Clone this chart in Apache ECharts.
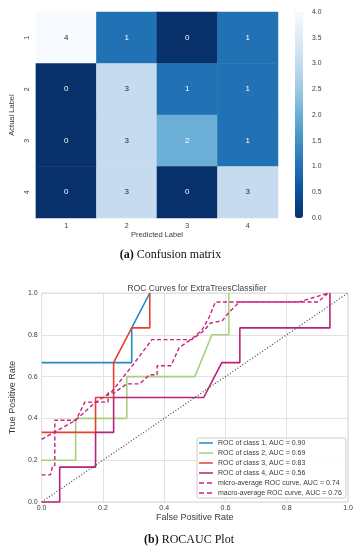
<!DOCTYPE html>
<html><head><meta charset="utf-8">
<script src="https://cdn.jsdelivr.net/npm/echarts@6/dist/echarts.min.js"></script>
<style>html,body{margin:0;padding:0;background:#fff}#c{width:361px;height:550px}</style>
</head><body><div id="c"></div>
<script>
// ---- Confusion matrix data ----
const predictedLabels = ['1', '2', '3', '4'];
const actualLabels = ['1', '2', '3', '4'];
const confusion = [
  [4, 1, 0, 1],
  [0, 3, 1, 1],
  [0, 3, 2, 1],
  [0, 3, 0, 3]
];
// Blues_r colour ramp (low value -> high value)
const bluesR = ['#08306b', '#08519c', '#2171b5', '#4292c6', '#6baed6', '#9ecae1', '#c6dbef', '#deebf7', '#f7fbff'];

// ---- ROC data ----
const class1 = [[0, 0.667], [0.294, 0.667], [0.294, 0.833], [0.353, 1.0]];
const class2 = [[0, 0.2], [0.111, 0.2], [0.111, 0.4], [0.278, 0.4], [0.278, 0.6], [0.5, 0.6], [0.556, 0.8], [0.611, 0.8], [0.611, 1.0]];
const class3 = [[0, 0.333], [0.176, 0.333], [0.176, 0.5], [0.235, 0.5], [0.235, 0.667], [0.294, 0.833], [0.353, 0.833], [0.353, 1.0]];
const class4 = [[0, 0], [0.059, 0], [0.059, 0.167], [0.176, 0.167], [0.176, 0.333], [0.235, 0.333], [0.235, 0.5], [0.529, 0.5], [0.588, 0.667], [0.647, 0.667], [0.647, 0.833], [0.941, 0.833], [0.941, 1.0]];
const micro = [[0, 0.130], [0.029, 0.130], [0.036, 0.174], [0.043, 0.174], [0.043, 0.391], [0.112, 0.391], [0.141, 0.478], [0.217, 0.478], [0.217, 0.522], [0.236, 0.522], [0.278, 0.565], [0.320, 0.565], [0.352, 0.609], [0.377, 0.609], [0.377, 0.652], [0.422, 0.652], [0.449, 0.739], [0.490, 0.780], [0.524, 0.824], [0.547, 0.885], [0.567, 0.957], [0.902, 0.957], [0.936, 1.0]];
const macro = [[0, 0.30], [0.11, 0.39], [0.17, 0.47], [0.23, 0.53], [0.30, 0.66], [0.36, 0.777], [0.49, 0.777], [0.53, 0.82], [0.55, 0.855], [0.59, 0.868], [0.61, 0.905], [0.645, 0.957], [0.84, 0.957], [0.936, 1.0]];
const chance = [[0, 0], [1, 1]];
const legendNames = [
  'ROC of class 1, AUC = 0.90',
  'ROC of class 2, AUC = 0.69',
  'ROC of class 3, AUC = 0.83',
  'ROC of class 4, AUC = 0.56',
  'micro-average ROC curve, AUC = 0.74',
  'macro-average ROC curve, AUC = 0.76'
];
const rocSeriesData = [class1, class2, class3, class4, micro, macro];
const rocColors = ['#238bc6', '#a6d27e', '#e8402d', '#b8237d', '#c9217f', '#c9217f'];

const FONT = 'Liberation Sans, Arial, sans-serif';
const TXT = '#3a3a3a';

// legend glyphs: a thin bar (solid) or two dashes, with tiny corner specks fixing the box
const SOLID_ICON = 'path://M0,0h0.01v0.01h-0.01Z M0,2.2H14V3.8H0Z M13.99,6h0.01v0.01h-0.01Z';
const DASH_ICON = 'path://M0,0h0.01v0.01h-0.01Z M0,2.3H5V3.7H0Z M8,2.3H13V3.7H8Z M13.99,6h0.01v0.01h-0.01Z';

const heatData = [];
confusion.forEach((row, i) => row.forEach((v, j) => {
  heatData.push({ value: [j, i, v], label: { color: v >= 2.5 ? '#262626' : '#ffffff' } });
}));

const chart = echarts.init(document.getElementById('c'), null, { renderer: 'canvas' });

const rocSeries = rocSeriesData.map((d, k) => ({
  type: 'line',
  name: legendNames[k],
  xAxisIndex: 1, yAxisIndex: 1,
  data: d,
  symbol: 'none',
  clip: false,
  lineStyle: { color: rocColors[k], width: k >= 4 ? 1.4 : 1.6, type: k >= 4 ? [4, 2.5] : 'solid' },
  itemStyle: { color: rocColors[k] },
  z: 3
}));

const serifRich = {
  b: { fontFamily: 'Liberation Serif, serif', fontSize: 12, fontWeight: 'bold', color: '#111' },
  n: { fontFamily: 'Liberation Serif, serif', fontSize: 12, fontWeight: 'normal', color: '#111' }
};

const option = {
  animation: false,
  backgroundColor: '#fff',
  textStyle: { fontFamily: FONT },
  title: [
    { text: 'ROC Curves for ExtraTreesClassifier', left: 192, top: 279, textAlign: 'center',
      textStyle: { fontFamily: FONT, fontSize: 8.5, fontWeight: 'normal', color: '#444' } },
    { text: '{b|(a)}{n| Confusion matrix}', left: 165.5, top: 244, textAlign: 'center',
      textStyle: { fontWeight: 'normal', rich: serifRich } },
    { text: '{b|(b)}{n| ROCAUC Plot}', left: 184, top: 529, textAlign: 'center',
      textStyle: { fontWeight: 'normal', rich: serifRich } }
  ],
  grid: [
    { left: 32, top: 12, width: 246, height: 206, containLabel: false },
    { left: 36, top: 293, width: 312, height: 209, show: true, borderColor: '#d8d8d8', borderWidth: 1, backgroundColor: '#fff' },
    { left: 295, top: 12, width: 8, height: 206 }
  ],
  xAxis: [
    { type: 'category', gridIndex: 0, data: predictedLabels, name: 'Predicted Label', nameLocation: 'middle', nameGap: 13,
      nameTextStyle: { fontSize: 7.5, color: TXT },
      axisLine: { show: false }, axisTick: { show: false }, splitLine: { show: false },
      axisLabel: { fontSize: 7, color: TXT, margin: 5 } },
    { type: 'value', gridIndex: 1, min: 0, max: 1, interval: 0.2, name: 'False Positive Rate', nameLocation: 'middle', nameGap: 11,
      nameTextStyle: { fontSize: 9, color: TXT },
      axisLine: { show: false }, axisTick: { show: false },
      splitLine: { show: true, lineStyle: { color: '#e2e2e2', width: 1 } },
      axisLabel: { fontSize: 7, color: TXT, margin: 3, formatter: v => v.toFixed(1) } },
    { type: 'value', gridIndex: 2, show: false, min: 0, max: 1 }
  ],
  yAxis: [
    { type: 'category', gridIndex: 0, data: actualLabels, inverse: true, name: 'Actual Label', nameLocation: 'middle', nameGap: 14,
      nameRotate: 90, nameTextStyle: { fontSize: 7.5, color: TXT },
      axisLine: { show: false }, axisTick: { show: false }, splitLine: { show: false },
      axisLabel: { fontSize: 7, color: TXT, margin: 5, rotate: 90 } },
    { type: 'value', gridIndex: 1, min: 0, max: 1, interval: 0.2, name: 'True Positive Rate', nameLocation: 'middle', nameGap: 17,
      nameRotate: 90, nameTextStyle: { fontSize: 9, color: TXT },
      axisLine: { show: false }, axisTick: { show: false },
      splitLine: { show: true, lineStyle: { color: '#e2e2e2', width: 1 } },
      axisLabel: { fontSize: 7, color: TXT, margin: 4, formatter: v => v.toFixed(1) } },
    { type: 'value', gridIndex: 2, min: 0, max: 4, interval: 0.5, position: 'right',
      axisLine: { show: false }, axisTick: { show: false }, splitLine: { show: false },
      axisLabel: { fontSize: 6.8, color: TXT, margin: 9, formatter: v => v.toFixed(1) } }
  ],
  visualMap: {
    type: 'continuous', min: 0, max: 4, seriesIndex: 0, calculable: false, show: true,
    left: 295, top: 12, itemWidth: 8, itemHeight: 206, padding: 0, orient: 'vertical',
    inRange: { color: bluesR }
  },
  legend: {
    data: legendNames.map((n, k) => ({ name: n, icon: k >= 4 ? DASH_ICON : SOLID_ICON })),
    orient: 'vertical', left: 197, top: 438,
    itemWidth: 14, itemHeight: 6, itemGap: 2, padding: [1, 4, 1, 2],
    itemStyle: { borderWidth: 0 },
    backgroundColor: 'rgba(255,255,255,0.85)', borderColor: '#cccccc', borderWidth: 1, borderRadius: 2,
    textStyle: { fontSize: 7, color: TXT, lineHeight: 8, fontFamily: FONT },
    selectedMode: false
  },
  series: [
    { type: 'heatmap', xAxisIndex: 0, yAxisIndex: 0, data: heatData,
      label: { show: true, fontSize: 8, fontFamily: FONT },
      itemStyle: { borderWidth: 0 } },
    { type: 'scatter', xAxisIndex: 2, yAxisIndex: 2, data: [] },
    ...rocSeries,
    { type: 'line', name: 'chance', xAxisIndex: 1, yAxisIndex: 1, data: chance, symbol: 'none',
      lineStyle: { color: '#444', width: 1.2, type: [1, 2] }, z: 4 }
  ]
};
chart.setOption(option);
</script>
</body></html>
